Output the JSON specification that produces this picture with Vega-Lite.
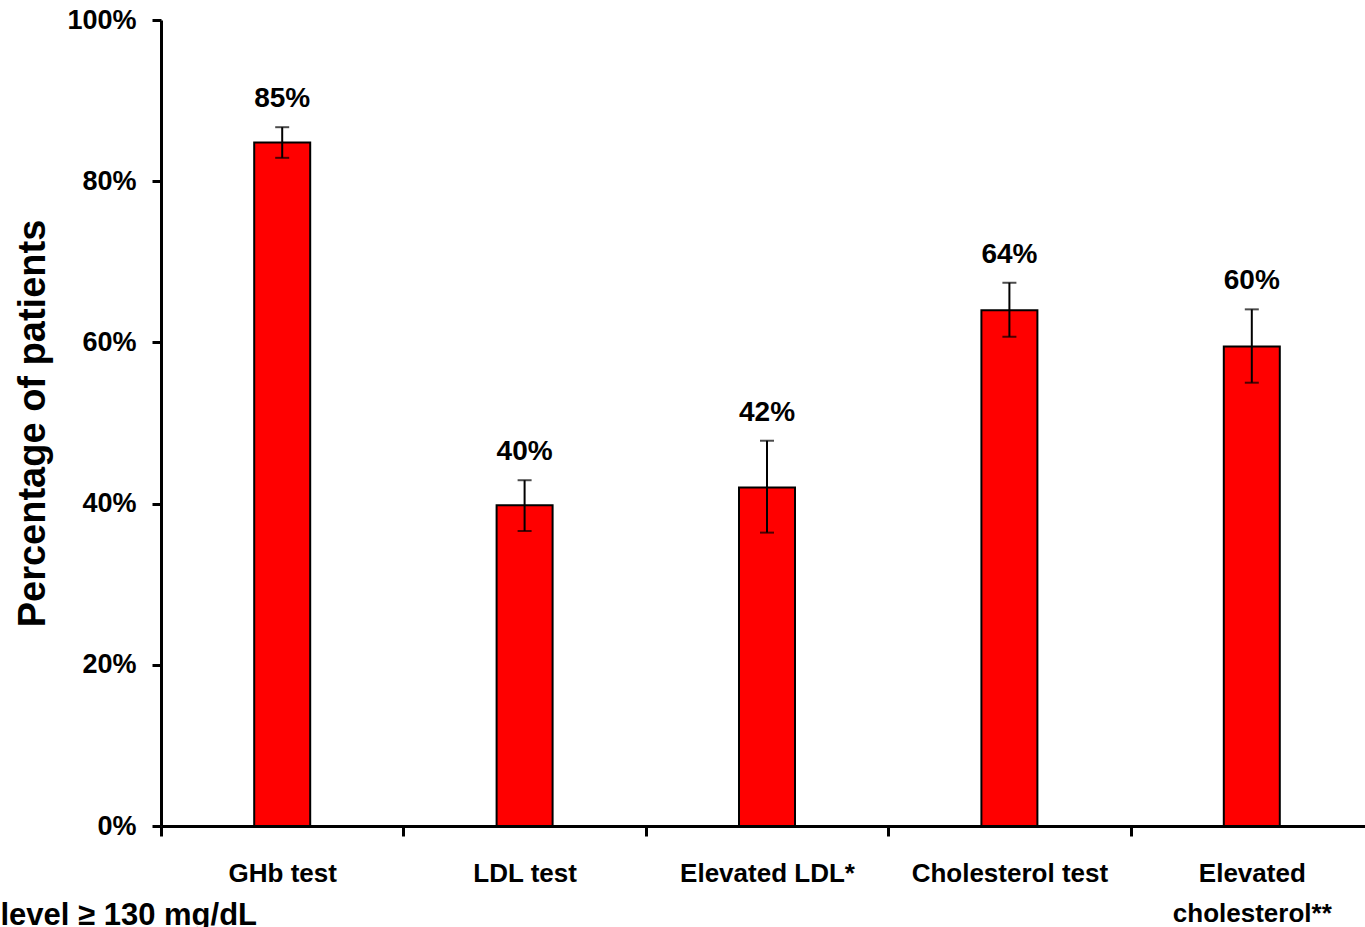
{
  "$schema": "https://vega.github.io/schema/vega-lite/v6.json",
  "width": 1212,
  "height": 806,
  "autosize": {"type": "none"},
  "padding": {"left": 161, "top": 20, "right": 0, "bottom": 101},
  "background": "white",
  "config": {
    "view": {"stroke": null},
    "font": "Liberation Sans"
  },
  "data": {
    "values": [
      {"category": "GHb test", "value": 84.8, "lo": 82.9, "hi": 86.7, "label": "85%"},
      {"category": "LDL test", "value": 39.8, "lo": 36.6, "hi": 42.9, "label": "40%"},
      {"category": "Elevated LDL*", "value": 42.0, "lo": 36.4, "hi": 47.8, "label": "42%"},
      {"category": "Cholesterol test", "value": 64.0, "lo": 60.7, "hi": 67.4, "label": "64%"},
      {"category": "Elevated cholesterol**", "value": 59.5, "lo": 55.0, "hi": 64.1, "label": "60%"}
    ]
  },
  "encoding": {
    "x": {
      "field": "category",
      "type": "nominal",
      "sort": null,
      "scale": {"paddingInner": 0, "paddingOuter": 0},
      "axis": {
        "title": "level ≥ 130 mg/dL",
        "titleX": -161,
        "titleY": 89,
        "titleAlign": "left",
        "titleAnchor": "start",
        "titleBaseline": "middle",
        "titleFont": "Liberation Sans",
        "titleFontSize": 31,
        "titleFontWeight": "bold",
        "titleColor": "black",
        "labelAngle": 0,
        "labelFont": "Liberation Sans",
        "labelFontSize": 26,
        "labelFontWeight": "bold",
        "labelColor": "black",
        "labelPadding": 24,
        "labelLimit": 400,
        "labelLineHeight": 40,
        "labelExpr": "datum.label == 'Elevated cholesterol**' ? ['Elevated', 'cholesterol**'] : datum.label",
        "tickBand": "extent",
        "tickSize": 10,
        "tickWidth": 3,
        "tickColor": "black",
        "domainColor": "black",
        "domainWidth": 3,
        "grid": false
      }
    }
  },
  "layer": [
    {
      "mark": {"type": "bar", "fill": "#FF0000", "stroke": "black", "strokeWidth": 2, "size": 56},
      "encoding": {
        "y": {
          "field": "value",
          "type": "quantitative",
          "scale": {"domain": [0, 100], "nice": false},
          "axis": {
            "title": "Percentage of patients",
            "titleFont": "Liberation Sans",
            "titleFontSize": 38,
            "titleFontWeight": "bold",
            "titleColor": "black",
            "titlePadding": 14,
            "values": [0, 20, 40, 60, 80, 100],
            "labelExpr": "datum.value + '%'",
            "labelFont": "Liberation Sans",
            "labelFontSize": 27,
            "labelFontWeight": "bold",
            "labelColor": "black",
            "labelPadding": 16,
            "tickSize": 9,
            "tickWidth": 3,
            "tickColor": "black",
            "domainColor": "black",
            "domainWidth": 3,
            "grid": false
          }
        }
      }
    },
    {
      "mark": {"type": "rule", "color": "black", "strokeWidth": 2},
      "encoding": {
        "y": {"field": "lo", "type": "quantitative"},
        "y2": {"field": "hi"}
      }
    },
    {
      "mark": {"type": "tick", "color": "black", "thickness": 2, "size": 14},
      "encoding": {
        "y": {"field": "lo", "type": "quantitative"}
      }
    },
    {
      "mark": {"type": "tick", "color": "black", "thickness": 2, "size": 14},
      "encoding": {
        "y": {"field": "hi", "type": "quantitative"}
      }
    },
    {
      "mark": {"type": "text", "font": "Liberation Sans", "fontSize": 28, "fontWeight": "bold", "color": "black", "baseline": "middle", "dy": -28},
      "encoding": {
        "y": {"field": "hi", "type": "quantitative"},
        "text": {"field": "label"}
      }
    }
  ]
}
